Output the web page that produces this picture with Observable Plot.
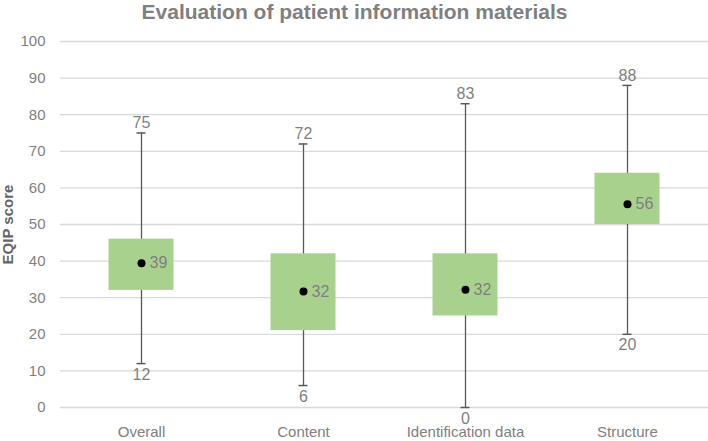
<!DOCTYPE html>
<html>
<head>
<meta charset="utf-8">
<script src="https://cdn.jsdelivr.net/npm/d3@7"></script>
<script src="https://cdn.jsdelivr.net/npm/@observablehq/plot@0.6"></script>
<style>
  html, body { margin: 0; padding: 0; background: #fff; }
  #chart svg { font-family: "Liberation Sans", Arial, sans-serif; }
</style>
</head>
<body>
<div id="chart"></div>
<script>
const categories = ["Overall", "Content", "Identification data", "Structure"];
const minValues = [12, 6, 0, 20];
const q1Values = [32, 21, 25, 50];
const q3Values = [46, 42, 42, 64];
const maxValues = [75, 72, 83, 88];
const meanValues = [39.4, 31.7, 32.2, 55.5];
const meanLabels = ["39", "32", "32", "56"];
const yTicks = [0, 10, 20, 30, 40, 50, 60, 70, 80, 90, 100];
const title = "Evaluation of patient information materials";
const yLabel = "EQIP score";

const data = categories.map((c, i) => ({
  cat: c, min: minValues[i], q1: q1Values[i], q3: q3Values[i],
  max: maxValues[i], mean: meanValues[i], meanLabel: meanLabels[i]
}));

const textColor = "#7f7f7f";
const bw = 162;

const chart = Plot.plot({
  width: 708,
  height: 441,
  marginLeft: 60,
  marginRight: 0,
  marginTop: 41,
  marginBottom: 34,
  style: { fontFamily: "Liberation Sans, Arial, sans-serif", background: "#fff" },
  x: { type: "band", domain: categories, padding: 0, label: null },
  y: { domain: [0, 100], label: null },
  marks: [
    Plot.gridY(yTicks, { stroke: "#d9d9d9", strokeOpacity: 1, strokeWidth: 1.3 }),
    Plot.axisY(yTicks, { tickSize: 0, tickPadding: 15, fontSize: 15, fill: textColor, label: null }),
    Plot.axisX({ tickSize: 0, tickPadding: 19, fontSize: 15, fill: textColor, label: null }),
    Plot.ruleX(data, { x: "cat", y1: "min", y2: "max", stroke: "#595959", strokeWidth: 1.3 }),
    Plot.tickY(data, { x: "cat", y: "min", stroke: "#595959", strokeWidth: 1.5, inset: (bw - 9) / 2 }),
    Plot.tickY(data, { x: "cat", y: "max", stroke: "#595959", strokeWidth: 1.5, inset: (bw - 9) / 2 }),
    Plot.barY(data, { x: "cat", y1: "q1", y2: "q3", fill: "#a9d18e", insetLeft: (bw - 65) / 2, insetRight: (bw - 65) / 2 }),
    Plot.dot(data, { x: "cat", y: "mean", r: 4, fill: "black", stroke: null }),
    Plot.text(data, { x: "cat", y: "mean", text: "meanLabel", dx: 8, textAnchor: "start", fontSize: 16, fill: textColor }),
    Plot.text(data, { x: "cat", y: "max", text: d => String(d.max), dy: -10, fontSize: 16, fill: textColor }),
    Plot.text(data, { x: "cat", y: "min", text: d => String(d.min), dy: 11, fontSize: 16, fill: textColor }),
    Plot.text([title], { frameAnchor: "top-left", dx: 294, dy: -29, textAnchor: "middle", lineAnchor: "middle", fontSize: 21, fontWeight: "bold", fill: textColor }),
    Plot.text([yLabel], { frameAnchor: "left", dx: -52, rotate: -90, textAnchor: "middle", lineAnchor: "middle", fontSize: 15, fontWeight: "bold", fill: "#666" })
  ]
});
document.getElementById("chart").appendChild(chart);
</script>
</body>
</html>
